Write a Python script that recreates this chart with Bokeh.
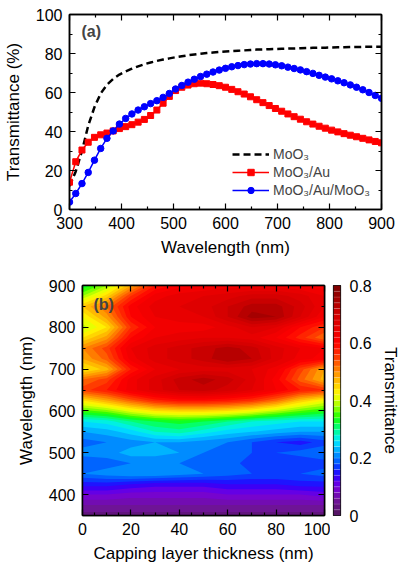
import numpy as np
from bokeh.plotting import figure
from bokeh.models import (LinearAxis, Range1d, FixedTicker, Legend, LegendItem, Label,
                          CustomJSTickFormatter)
from bokeh.layouts import column, row
from bokeh.embed import file_html
from bokeh.resources import INLINE

FONT = "Liberation Sans"

# ---------------- panel (a) data ----------------
wavelength = [300, 312, 324, 336, 348, 360, 372, 384, 396, 408, 420, 432, 444, 456, 468,
              480, 492, 504, 516, 528, 540, 552, 564, 576, 588, 600, 612, 624, 636, 648,
              660, 672, 684, 696, 708, 720, 732, 744, 756, 768, 780, 792, 804, 816, 828,
              840, 852, 864, 876, 888, 900]
moo3 = [12.0, 19.5, 30.0, 43.0, 52.5, 59.5, 64.0, 67.0, 69.2, 70.8, 72.2, 73.4, 74.5, 75.4, 76.2,
        76.9, 77.5, 78.1, 78.6, 79.1, 79.5, 79.9, 80.2, 80.5, 80.8, 81.0, 81.2, 81.4, 81.6, 81.8,
        82.0, 82.1, 82.2, 82.3, 82.4, 82.5, 82.6, 82.7, 82.8, 82.9, 83.0, 83.0, 83.1, 83.2, 83.2,
        83.3, 83.3, 83.4, 83.4, 83.5, 83.5]
moo3_au = [14.0, 24.5, 30.5, 34.5, 37.0, 38.3, 39.2, 40.3, 41.5, 42.5, 43.5, 44.8, 46.2, 48.2, 51.0,
           54.5, 58.0, 61.0, 62.7, 63.8, 64.5, 64.8, 64.5, 64.1, 63.5, 62.7, 61.6, 60.4, 59.2, 57.8,
           56.3, 54.8, 53.3, 51.8, 50.4, 49.0, 47.6, 46.3, 45.0, 43.8, 42.7, 41.7, 40.7, 39.8, 38.9,
           38.1, 37.3, 36.5, 35.7, 34.9, 34.2]
moo3_au_moo3 = [3.8, 8.2, 13.3, 19.0, 25.3, 31.3, 36.5, 40.3, 43.8, 46.7, 49.0, 51.0, 52.7, 54.3, 55.8,
                57.5, 59.5, 61.8, 63.6, 65.3, 66.8, 68.2, 69.4, 70.5, 71.5, 72.4, 73.2, 73.8, 74.3, 74.6,
                74.8, 74.8, 74.6, 74.2, 73.7, 73.0, 72.3, 71.6, 70.7, 69.8, 68.8, 67.9, 67.0, 66.0, 65.0,
                63.9, 62.7, 61.4, 60.0, 58.5, 57.0]
series_labels = ["MoO\u2083", "MoO\u2083/Au", "MoO\u2083/Au/MoO\u2083"]

# ---------------- panel (b) data ----------------
thickness = [0, 10, 20, 30, 40, 50, 60, 70, 80, 90, 100]
wl_grid = [350, 375, 400, 425, 450, 475, 500, 525, 550, 575, 600, 625,
           650, 675, 700, 725, 750, 775, 800, 825, 850, 875, 900]
T_350 = [0.03, 0.03, 0.03, 0.03, 0.03, 0.03, 0.03, 0.03, 0.03, 0.03, 0.03]
T_375 = [0.06, 0.06, 0.06, 0.06, 0.06, 0.06, 0.06, 0.06, 0.06, 0.06, 0.06]
T_400 = [0.10, 0.10, 0.09, 0.09, 0.09, 0.09, 0.10, 0.10, 0.10, 0.10, 0.11]
T_425 = [0.15, 0.15, 0.14, 0.13, 0.13, 0.13, 0.14, 0.14, 0.14, 0.15, 0.15]
T_450 = [0.20, 0.21, 0.22, 0.22, 0.21, 0.20, 0.19, 0.18, 0.18, 0.18, 0.19]
T_475 = [0.18, 0.19, 0.20, 0.20, 0.20, 0.20, 0.19, 0.17, 0.16, 0.16, 0.17]
T_500 = [0.21, 0.21, 0.23, 0.23, 0.22, 0.20, 0.19, 0.18, 0.18, 0.19, 0.20]
T_525 = [0.19, 0.20, 0.21, 0.22, 0.22, 0.21, 0.20, 0.18, 0.16, 0.15, 0.17]
T_550 = [0.22, 0.23, 0.25, 0.28, 0.29, 0.27, 0.25, 0.24, 0.23, 0.22, 0.22]
T_575 = [0.26, 0.27, 0.30, 0.32, 0.33, 0.32, 0.30, 0.28, 0.27, 0.26, 0.26]
T_600 = [0.35, 0.37, 0.41, 0.44, 0.45, 0.45, 0.44, 0.42, 0.39, 0.36, 0.34]
T_625 = [0.44, 0.48, 0.53, 0.57, 0.59, 0.59, 0.58, 0.56, 0.52, 0.46, 0.42]
T_650 = [0.55, 0.58, 0.63, 0.67, 0.70, 0.71, 0.69, 0.66, 0.62, 0.58, 0.56]
T_675 = [0.52, 0.55, 0.63, 0.67, 0.71, 0.73, 0.71, 0.67, 0.61, 0.53, 0.47]
T_700 = [0.43, 0.47, 0.58, 0.64, 0.66, 0.67, 0.67, 0.66, 0.63, 0.55, 0.48]
T_725 = [0.48, 0.53, 0.63, 0.67, 0.69, 0.71, 0.74, 0.72, 0.67, 0.63, 0.61]
T_750 = [0.50, 0.55, 0.64, 0.67, 0.69, 0.71, 0.73, 0.71, 0.67, 0.64, 0.62]
T_775 = [0.44, 0.49, 0.60, 0.64, 0.65, 0.66, 0.66, 0.65, 0.62, 0.57, 0.52]
T_800 = [0.39, 0.44, 0.56, 0.62, 0.63, 0.63, 0.65, 0.68, 0.66, 0.60, 0.56]
T_825 = [0.42, 0.49, 0.60, 0.64, 0.65, 0.66, 0.70, 0.75, 0.74, 0.68, 0.62]
T_850 = [0.46, 0.52, 0.61, 0.65, 0.66, 0.67, 0.70, 0.73, 0.73, 0.69, 0.64]
T_875 = [0.38, 0.45, 0.56, 0.63, 0.65, 0.66, 0.67, 0.69, 0.69, 0.67, 0.64]
T_900 = [0.32, 0.38, 0.48, 0.58, 0.61, 0.62, 0.63, 0.63, 0.63, 0.62, 0.61]
T_rows = [T_350, T_375, T_400, T_425, T_450, T_475, T_500, T_525, T_550, T_575, T_600, T_625,
          T_650, T_675, T_700, T_725, T_750, T_775, T_800, T_825, T_850, T_875, T_900]

cbar_ticks = [0, 0.2, 0.4, 0.6, 0.8]

# ---------------- colour scale (style) ----------------
anchors = [(0.00, (80, 20, 90)), (0.05, (110, 20, 150)), (0.10, (120, 0, 220)),
           (0.14, (40, 0, 255)), (0.18, (0, 80, 255)), (0.22, (0, 160, 255)),
           (0.26, (0, 235, 255)), (0.30, (0, 255, 140)), (0.34, (20, 255, 0)),
           (0.38, (160, 255, 0)), (0.42, (255, 255, 0)), (0.46, (255, 200, 0)),
           (0.50, (255, 140, 0)), (0.55, (255, 60, 0)), (0.60, (255, 0, 0)),
           (0.70, (210, 0, 0)), (0.80, (120, 0, 0))]


def colour_at(v):
    for (v0, c0), (v1, c1) in zip(anchors[:-1], anchors[1:]):
        if v0 <= v <= v1:
            f = (v - v0) / (v1 - v0)
            r, g, b = (round(a + (bb - a) * f) for a, bb in zip(c0, c1))
            return "#%02x%02x%02x" % (r, g, b)
    return "#%02x%02x%02x" % anchors[-1][1]


levels = [round(0.02 * i, 2) for i in range(41)]
palette = [colour_at((a + b) / 2) for a, b in zip(levels[:-1], levels[1:])]

blank = CustomJSTickFormatter(code="return ''")


def style_axis(ax, labels=True, tick_font="16px"):
    ax.major_tick_in = 6
    ax.major_tick_out = 0
    ax.minor_tick_in = 3
    ax.minor_tick_out = 0
    ax.major_tick_line_width = 1.2
    ax.minor_tick_line_width = 1.2
    ax.major_tick_line_color = "black"
    ax.minor_tick_line_color = "black"
    ax.axis_line_color = "black"
    ax.axis_line_width = 1.5
    ax.major_label_text_font = FONT
    ax.major_label_text_color = "black"
    ax.axis_label_text_font = FONT
    ax.axis_label_text_font_style = "normal"
    ax.axis_label_text_font_size = "17px"
    ax.axis_label_text_color = "black"
    ax.major_label_text_font_size = tick_font
    if labels:
        ax.major_label_standoff = 7
    else:
        ax.formatter = blank
        ax.major_label_standoff = 0


# ---------------- panel (a) ----------------
p1 = figure(width=402, height=268, x_range=Range1d(300, 900), y_range=Range1d(0, 100),
            output_backend="svg", toolbar_location=None,
            min_border_left=68, min_border_right=21, min_border_top=14, min_border_bottom=59)
p1.xgrid.visible = False
p1.ygrid.visible = False
p1.outline_line_color = "black"
p1.outline_line_width = 1.5

xt1 = FixedTicker(ticks=[300, 400, 500, 600, 700, 800, 900],
                  minor_ticks=[350, 450, 550, 650, 750, 850])
yt1 = FixedTicker(ticks=[0, 20, 40, 60, 80, 100],
                  minor_ticks=[10, 30, 50, 70, 90])
p1.xaxis.ticker = xt1
p1.yaxis.ticker = yt1
p1.xaxis.axis_label = "Wavelength (nm)"
p1.yaxis.axis_label = "Transmittance (%)"
style_axis(p1.xaxis[0])
style_axis(p1.yaxis[0])
p1.xaxis.axis_label_standoff = 6
p1.yaxis.axis_label_standoff = 10
ax = LinearAxis(ticker=xt1)
style_axis(ax, labels=False)
p1.add_layout(ax, "above")
ax = LinearAxis(ticker=yt1)
style_axis(ax, labels=False)
p1.add_layout(ax, "right")

r0 = p1.line(wavelength, moo3, line_color="black", line_width=2.5, line_dash="7 4")
r1l = p1.line(wavelength, moo3_au, line_color="#ff0000", line_width=1.5)
r1m = p1.scatter(wavelength, moo3_au, marker="square", size=6, fill_color="#ff0000",
                 line_color="#ff0000")
r2l = p1.line(wavelength, moo3_au_moo3, line_color="#0000ff", line_width=1.5)
r2m = p1.scatter(wavelength, moo3_au_moo3, marker="circle", size=6.5, fill_color="#0000ff",
                 line_color="#0000ff")

legend = Legend(items=[LegendItem(label=series_labels[0], renderers=[r0]),
                       LegendItem(label=series_labels[1], renderers=[r1l, r1m]),
                       LegendItem(label=series_labels[2], renderers=[r2l, r2m])],
                location="bottom_right", margin=11, padding=0, spacing=2,
                glyph_width=37, glyph_height=16, label_height=16, label_standoff=4,
                label_text_font=FONT, label_text_font_size="14px",
                border_line_color=None, background_fill_alpha=0)
p1.add_layout(legend)
p1.add_layout(Label(x=323, y=87, text="(a)", text_font=FONT, text_font_style="bold",
                    text_font_size="16px", text_baseline="bottom", text_align="left"))

# ---------------- panel (b) ----------------
p2 = figure(width=330, height=305, x_range=Range1d(0, 100), y_range=Range1d(350, 900),
            output_backend="svg", toolbar_location=None,
            min_border_left=82, min_border_right=6, min_border_top=17, min_border_bottom=58)
p2.xgrid.visible = False
p2.ygrid.visible = False
p2.outline_line_color = "black"
p2.outline_line_width = 1.5
Z = np.array(T_rows)
# stacked fills (each level drawn as "everything above it") so no seams appear
for lo, col in zip(levels[:-1], palette):
    p2.contour(thickness, wl_grid, Z, levels=[lo, 1.0], fill_color=col, line_color=None)

xt2 = FixedTicker(ticks=[0, 20, 40, 60, 80, 100],
                  minor_ticks=[5, 10, 15, 25, 30, 35, 45, 50, 55, 65, 70, 75, 85, 90, 95])
yt2 = FixedTicker(ticks=[400, 500, 600, 700, 800, 900],
                  minor_ticks=[350, 450, 550, 650, 750, 850])
p2.xaxis.ticker = xt2
p2.yaxis.ticker = yt2
p2.xaxis.axis_label = "Capping layer thickness (nm)"
p2.yaxis.axis_label = "Wavelength (nm)"
style_axis(p2.xaxis[0])
style_axis(p2.yaxis[0])
p2.xaxis.axis_label_standoff = 6
p2.yaxis.axis_label_standoff = 10
ax = LinearAxis(ticker=xt2)
style_axis(ax, labels=False)
p2.add_layout(ax, "above")
ax = LinearAxis(ticker=yt2)
style_axis(ax, labels=False)
p2.add_layout(ax, "right")
p2.add_layout(Label(x=4.5, y=835, text="(b)", text_font=FONT, text_font_style="bold",
                    text_font_size="16px", text_baseline="bottom", text_align="left"))

# ---------------- colour bar ----------------
p3 = figure(width=72, height=305, x_range=Range1d(0, 1), y_range=Range1d(0, 0.8),
            output_backend="svg", toolbar_location=None, x_axis_location=None,
            y_axis_location="right",
            min_border_left=3, min_border_right=60, min_border_top=17, min_border_bottom=58)
p3.xgrid.visible = False
p3.ygrid.visible = False
p3.outline_line_color = "black"
p3.outline_line_width = 1.2
p3.quad(left=0, right=1, bottom=levels[:-1], top=levels[1:], fill_color=palette,
        line_color="white", line_alpha=0.25, line_width=0.5)
cax = p3.yaxis[0]
cax.ticker = FixedTicker(ticks=cbar_ticks)
style_axis(cax)
cax.major_tick_in = 0
cax.minor_tick_in = 0
cax.axis_line_color = None
cax.major_label_standoff = 9
cax.major_label_overrides = {0: "0"}
cax.axis_label = "Transmittance"
cax.axis_label_standoff = 6

layout = column(p1, row(p2, p3))
open("out.html", "w").write(file_html(layout, INLINE))
